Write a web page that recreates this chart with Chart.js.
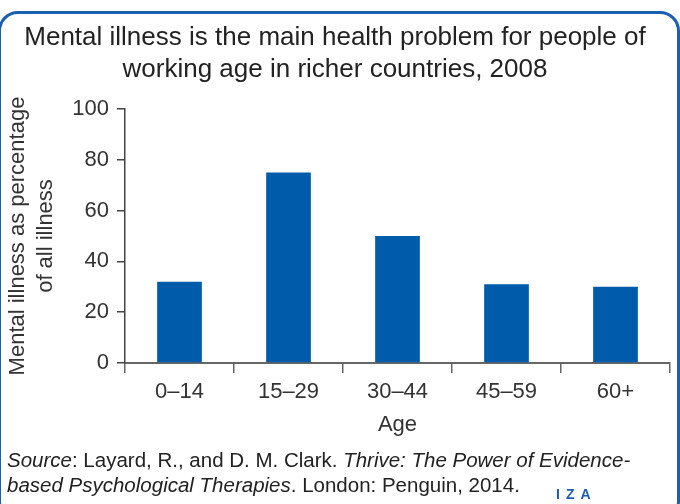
<!DOCTYPE html>
<html>
<head>
<meta charset="utf-8">
<script src="https://cdn.jsdelivr.net/npm/chart.js@4.4.1/dist/chart.umd.min.js"></script>
<style>
    body { margin: 0; background: #fff; }
    #wrap { position: relative; width: 680px; height: 504px; overflow: hidden; }
    #frame {
        position: absolute; left: -2px; top: 11px; width: 682px; height: 510px;
        box-sizing: border-box; border: 3px solid #1a5fb0; border-radius: 20px;
    }
    #chart { position: absolute; left: 0; top: 0; }
    #source {
        position: absolute; left: 7px; top: 447px; width: 670px;
        font-family: "Liberation Sans", Arial, sans-serif; font-size: 20.5px; line-height: 25px; color: #222;
    }
    #iza {
        position: absolute; left: 556px; top: 486px;
        font-family: "Liberation Sans", Arial, sans-serif; font-weight: bold; font-size: 14px;
        letter-spacing: 6px; color: #1a5fb0;
    }
</style>
</head>
<body>
<div id="wrap">
    <div id="frame"></div>
    <canvas id="chart" width="680" height="504"></canvas>
    <div id="source"><i>Source</i>: Layard, R., and D. M. Clark. <i>Thrive: The Power of Evidence-<br>based Psychological Therapies</i>. London: Penguin, 2014.</div>
    <div id="iza">IZA</div>
</div>
<script>
// Chart data
const ageGroups = ['0–14', '15–29', '30–44', '45–59', '60+'];
const mentalIllnessShare = [32, 75, 50, 31, 30];
const titleLines = ['Mental illness is the main health problem for people of', 'working age in richer countries, 2008'];
const yTitleLines = ['Mental illness as percentage', 'of all illness'];

const fontFamily = '"Liberation Sans", Arial, sans-serif';

const ctx = document.getElementById('chart').getContext('2d');
new Chart(ctx, {
    type: 'bar',
    data: {
        labels: ageGroups,
        datasets: [{
            data: mentalIllnessShare,
            backgroundColor: '#005bab',
            barPercentage: 0.41,
            categoryPercentage: 1
        }]
    },
    options: {
        responsive: false,
        animation: false,
        layout: { padding: { top: 0, left: 0, right: 10, bottom: 61 } },
        plugins: {
            legend: { display: false },
            tooltip: { enabled: false },
            title: {
                display: true,
                text: titleLines,
                color: '#222',
                font: { family: fontFamily, size: 26, weight: 'normal', lineHeight: 32 / 26 },
                padding: { top: 22, bottom: 23 }
            }
        },
        scales: {
            x: {
                offset: true,
                afterFit: scale => { scale.height = 80; },
                grid: { offset: true, drawOnChartArea: false, tickLength: 10, color: '#666', lineWidth: 1.5 },
                border: { color: '#666', width: 2 },
                ticks: { color: '#333', padding: 6, font: { family: fontFamily, size: 22 } },
                title: {
                    display: true, text: 'Age', color: '#333',
                    font: { family: fontFamily, size: 22, lineHeight: 26 / 22 },
                    padding: { top: 0, bottom: 5 }
                }
            },
            y: {
                min: 0,
                max: 100,
                afterFit: scale => { scale.width = 125; },
                grid: { drawOnChartArea: false, tickLength: 8, color: '#444', lineWidth: 1.5 },
                border: { color: '#444', width: 1.5 },
                ticks: { stepSize: 20, color: '#333', padding: 8, font: { family: fontFamily, size: 22 } },
                title: {
                    display: true, text: yTitleLines, color: '#333',
                    font: { family: fontFamily, size: 22, lineHeight: 28 / 22 },
                    padding: { top: 4, bottom: 0 }
                }
            }
        }
    }
});
</script>
</body>
</html>
